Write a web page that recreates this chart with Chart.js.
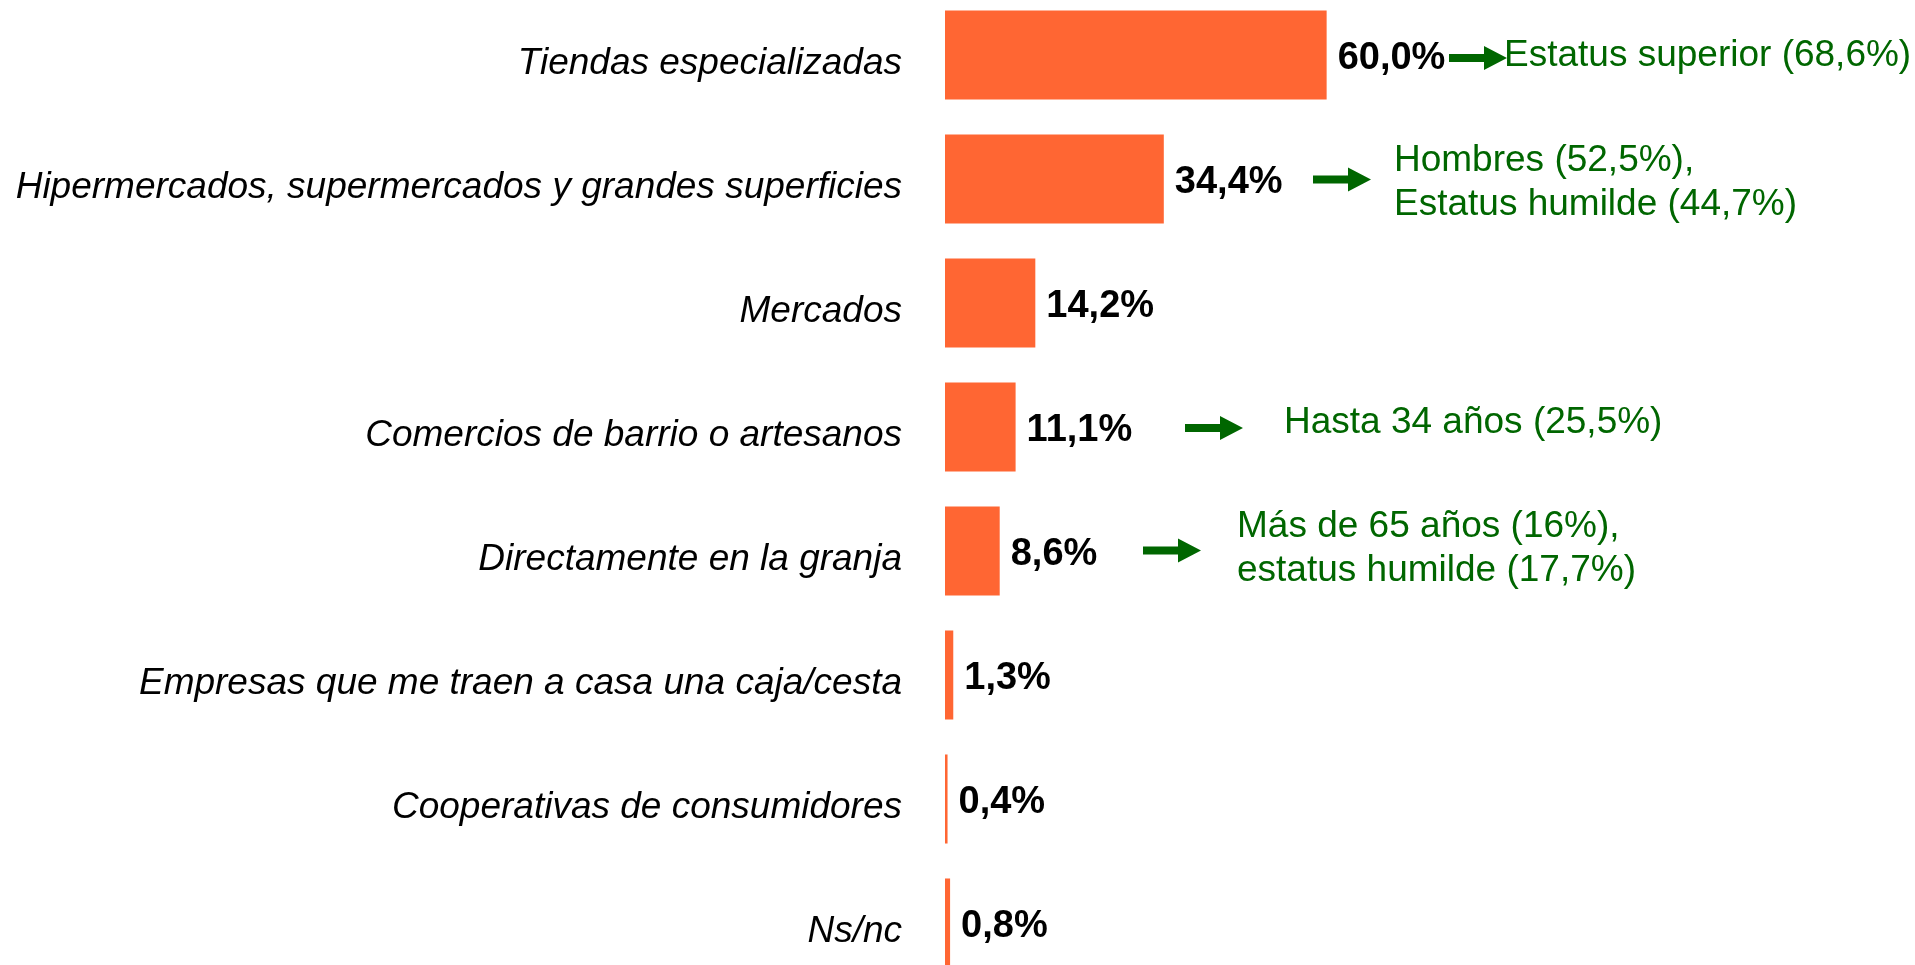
<!DOCTYPE html>
<html>
<head>
<meta charset="utf-8">
<script src="https://cdn.jsdelivr.net/npm/chart.js@4/dist/chart.umd.min.js"></script>
<style>
  html, body { margin: 0; padding: 0; background: #fff; overflow: hidden; }
  #wrap { position: relative; width: 1915px; height: 965px; overflow: hidden; }
  #placesChart { position: absolute; left: 0; top: -7px; }
</style>
</head>
<body>
<div id="wrap">
  <canvas id="placesChart" width="1915" height="992"></canvas>
</div>
<script>
const categories = [
  'Tiendas especializadas',
  'Hipermercados, supermercados y grandes superficies',
  'Mercados',
  'Comercios de barrio o artesanos',
  'Directamente en la granja',
  'Empresas que me traen a casa una caja/cesta',
  'Cooperativas de consumidores',
  'Ns/nc'
];
const values = [60.0, 34.4, 14.2, 11.1, 8.6, 1.3, 0.4, 0.8];

// profile highlights shown next to some bars (null = none)
const notes = [
  ['Estatus superior (68,6%)'],
  ['Hombres (52,5%),', 'Estatus humilde (44,7%)'],
  null,
  ['Hasta 34 años (25,5%)'],
  ['Más de 65 años (16%),', 'estatus humilde (17,7%)'],
  null,
  null,
  null
];

// arrow / text placement per row; baseline is the first line's baseline relative to the bar centre
const noteLayout = [
  { arrowX: 1449, textX: 1504, baseline: 11.2, arrowDy: 3 },
  { arrowX: 1313, textX: 1394, baseline: -7.8, arrowDy: 0.5 },
  null,
  { arrowX: 1185, textX: 1284, baseline: 6.2, arrowDy: 1 },
  { arrowX: 1143, textX: 1237, baseline: -14.2, arrowDy: -0.5 },
  null,
  null,
  null
];

const ORANGE = '#FF6633';
const GREEN = '#006600';
const FAMILY = '"Liberation Sans", Arial, sans-serif';

function fmt(v) {
  return v.toFixed(1).replace('.', ',') + '%';
}

// distance from the 'middle' text baseline down to the alphabetic one
function middleToBaseline(font) {
  const c = document.createElement('canvas').getContext('2d');
  c.font = font;
  c.textBaseline = 'alphabetic';
  const a = c.measureText('H').actualBoundingBoxAscent;
  c.textBaseline = 'middle';
  const m = c.measureText('H').actualBoundingBoxAscent;
  return a - m;
}

function drawArrow(c, x, y) {
  const len = 58, shaft = 8, headLen = 23, headH = 24;
  c.beginPath();
  c.moveTo(x, y - shaft / 2);
  c.lineTo(x + len - headLen, y - shaft / 2);
  c.lineTo(x + len - headLen, y - headH / 2);
  c.lineTo(x + len, y);
  c.lineTo(x + len - headLen, y + headH / 2);
  c.lineTo(x + len - headLen, y + shaft / 2);
  c.lineTo(x, y + shaft / 2);
  c.closePath();
  c.fill();
}

const barLabels = {
  id: 'barLabels',
  afterDatasetsDraw(chart) {
    const c = chart.ctx;
    const meta = chart.getDatasetMeta(0);
    c.save();
    c.textAlign = 'left';
    c.textBaseline = 'alphabetic';
    meta.data.forEach((bar, i) => {
      c.fillStyle = '#000';
      c.font = 'bold 38px ' + FAMILY;
      c.fillText(fmt(values[i]), bar.x + 11, bar.y + 13.7);

      if (!notes[i]) return;
      const lay = noteLayout[i];
      c.fillStyle = GREEN;
      drawArrow(c, lay.arrowX, bar.y + lay.arrowDy);
      c.font = '37px ' + FAMILY;
      notes[i].forEach((t, k) => {
        c.fillText(t, lay.textX, bar.y + lay.baseline + k * 44);
      });
    });
    c.restore();
  }
};

const tickShift = 18.7 - middleToBaseline('italic 37px ' + FAMILY);

const ctx = document.getElementById('placesChart').getContext('2d');
const placesChart = new Chart(ctx, {
  type: 'bar',
  data: {
    labels: categories,
    datasets: [{
      data: values,
      backgroundColor: ORANGE,
      borderWidth: 0,
      barPercentage: 0.718,
      categoryPercentage: 1
    }]
  },
  options: {
    indexAxis: 'y',
    responsive: false,
    animation: false,
    layout: { padding: 0 },
    plugins: {
      legend: { display: false },
      tooltip: { enabled: false }
    },
    scales: {
      x: {
        display: false,
        min: 0,
        max: 152.5
      },
      y: {
        grid: { display: false, drawTicks: false },
        border: { display: false },
        ticks: {
          color: '#000',
          padding: 43,
          labelOffset: tickShift,
          font: { family: FAMILY, size: 37, style: 'italic' }
        },
        afterFit(scale) {
          // fixed label column; bars are offset so no extra room is needed above/below
          scale.width = 945;
          scale.paddingTop = 0;
          scale.paddingBottom = 0;
        }
      }
    }
  },
  plugins: [barLabels]
});
</script>
</body>
</html>
